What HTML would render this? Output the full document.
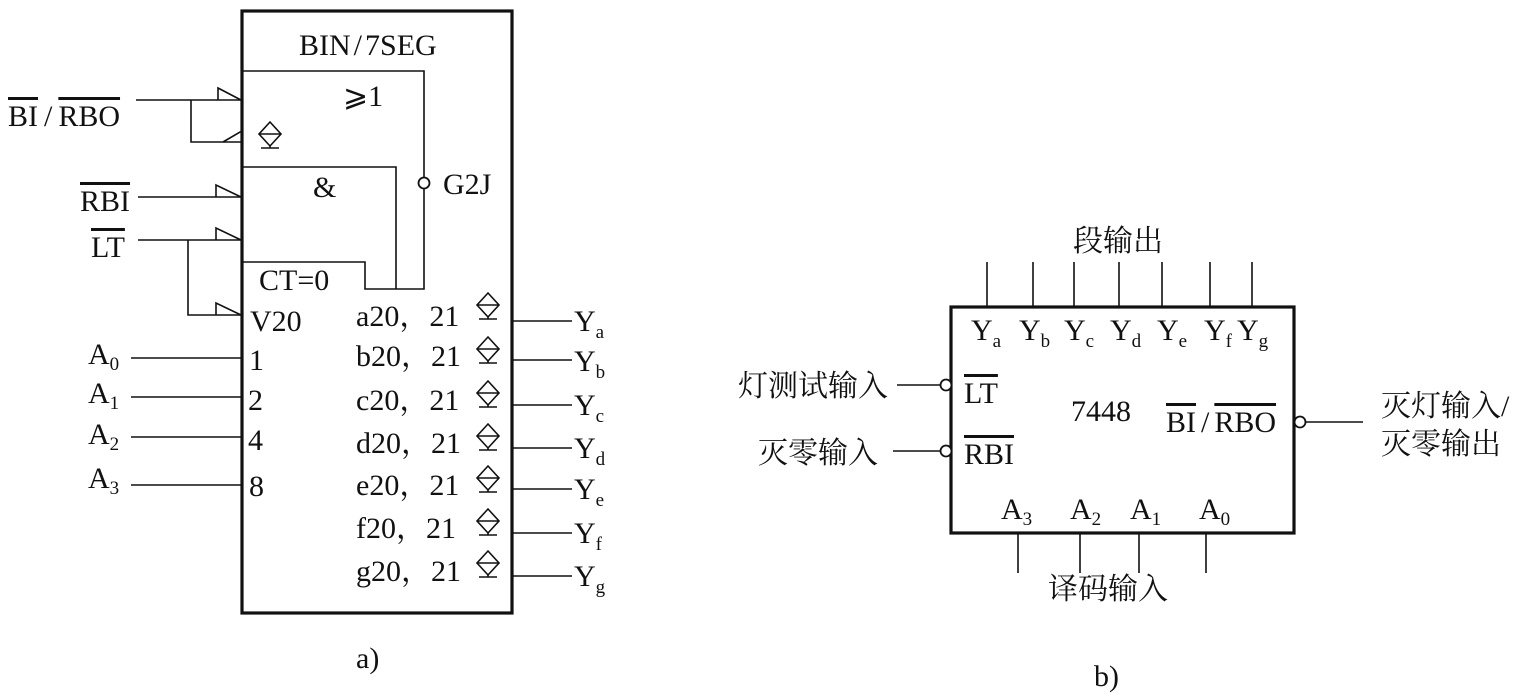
<!DOCTYPE html>
<html><head><meta charset="utf-8">
<style>
html,body{margin:0;padding:0;background:#fff;}
svg{display:block;}
text{font-family:"Liberation Serif","Noto Serif CJK SC","Noto Sans CJK SC",serif;fill:#111;}
.ov{text-decoration:overline;}
</style></head><body>
<svg width="1531" height="699" viewBox="0 0 1531 699" xmlns="http://www.w3.org/2000/svg">
<defs>
<g id="dm" fill="none" stroke="#111" stroke-width="1.6">
<path d="M0,-12 L11,0 L0,12 L-11,0 Z"/><line x1="-11" y1="0" x2="11" y2="0"/><line x1="-9" y1="14" x2="9" y2="14"/><line x1="0" y1="12" x2="0" y2="14"/>
</g>
</defs>
<g stroke="#111" fill="none">
<rect x="242" y="11" width="270" height="602" stroke-width="3.2"/>
<g stroke-width="1.6">
<polyline points="242,71 424,71 424,289 365,289 365,262 242,262"/>
<polyline points="242,167 396,167 396,289"/>
<line x1="136" y1="100" x2="242" y2="100"/>
<polyline points="191,100 191,142 242,142"/>
<polyline points="218,100 218,88 241,100"/>
<polyline points="223,142 240,132 242,132"/>
<line x1="138" y1="197" x2="242" y2="197"/>
<polyline points="216,197 216,185 241,197"/>
<line x1="138" y1="240" x2="242" y2="240"/>
<polyline points="188,240 188,315 242,315"/>
<polyline points="216,240 216,228 241,240"/>
<polyline points="216,315 216,303 241,315"/>
<line x1="131" y1="358" x2="242" y2="358"/>
<line x1="131" y1="397" x2="242" y2="397"/>
<line x1="131" y1="437" x2="242" y2="437"/>
<line x1="131" y1="485" x2="242" y2="485"/>
<line x1="512" y1="321" x2="572" y2="321"/>
<line x1="512" y1="360" x2="572" y2="360"/>
<line x1="512" y1="405" x2="572" y2="405"/>
<line x1="512" y1="448" x2="572" y2="448"/>
<line x1="512" y1="489" x2="572" y2="489"/>
<line x1="512" y1="533" x2="572" y2="533"/>
<line x1="512" y1="576" x2="572" y2="576"/>
</g>
<circle cx="424" cy="183" r="5.5" fill="#fff" stroke-width="1.8"/>
<rect x="951" y="307" width="343" height="226" stroke-width="3.2"/>
<g stroke-width="1.6">
<line x1="987" y1="262" x2="987" y2="307"/>
<line x1="1033" y1="262" x2="1033" y2="307"/>
<line x1="1074" y1="262" x2="1074" y2="307"/>
<line x1="1119" y1="262" x2="1119" y2="307"/>
<line x1="1162" y1="262" x2="1162" y2="307"/>
<line x1="1210" y1="262" x2="1210" y2="307"/>
<line x1="1252" y1="262" x2="1252" y2="307"/>
<line x1="1018" y1="533" x2="1018" y2="573"/>
<line x1="1080" y1="533" x2="1080" y2="573"/>
<line x1="1139" y1="533" x2="1139" y2="573"/>
<line x1="1206" y1="533" x2="1206" y2="573"/>
<line x1="897" y1="385" x2="941" y2="385"/>
<line x1="893" y1="451" x2="941" y2="451"/>
<line x1="1305" y1="422" x2="1363" y2="422"/>
</g>
<circle cx="946" cy="385" r="5.5" fill="#fff" stroke-width="1.8"/>
<circle cx="946" cy="451" r="5.5" fill="#fff" stroke-width="1.8"/>
<circle cx="1300" cy="422" r="5.5" fill="#fff" stroke-width="1.8"/>
</g>
<use href="#dm" x="270" y="134"/>
<use href="#dm" x="488" y="305"/>
<use href="#dm" x="488" y="349"/>
<use href="#dm" x="488" y="393"/>
<use href="#dm" x="488" y="436"/>
<use href="#dm" x="488" y="478"/>
<use href="#dm" x="488" y="521"/>
<use href="#dm" x="488" y="563"/>
<g font-size="30">
<text x="299" y="55">BIN<tspan dx="3">/</tspan><tspan dx="3">7SEG</tspan></text>
<text x="343" y="106">⩾1</text>
<text x="313" y="197">&amp;</text>
<text x="443" y="194">G2J</text>
<text x="259" y="290">CT=0</text>
<text x="250" y="331">V20</text>
<text x="249" y="370">1</text>
<text x="248" y="410">2</text>
<text x="248" y="450">4</text>
<text x="249" y="496">8</text>
<text x="8" y="126"><tspan class="ov">BI</tspan><tspan dx="6">/</tspan><tspan dx="6" class="ov">RBO</tspan></text>
<text x="80" y="211" class="ov">RBI</text>
<text x="91" y="257" class="ov">LT</text>
<text x="88" y="364">A<tspan font-size="19" dy="6">0</tspan></text>
<text x="88" y="403">A<tspan font-size="19" dy="6">1</tspan></text>
<text x="88" y="444">A<tspan font-size="19" dy="6">2</tspan></text>
<text x="88" y="488">A<tspan font-size="19" dy="6">3</tspan></text>
<text x="356" y="326">a20，21</text>
<text x="356" y="366">b20，21</text>
<text x="356" y="410">c20，21</text>
<text x="356" y="453">d20，21</text>
<text x="356" y="495">e20，21</text>
<text x="356" y="538">f20，21</text>
<text x="356" y="581">g20，21</text>
<text x="574" y="331">Y<tspan font-size="19" dy="7">a</tspan></text>
<text x="574" y="371">Y<tspan font-size="19" dy="7">b</tspan></text>
<text x="574" y="415">Y<tspan font-size="19" dy="7">c</tspan></text>
<text x="574" y="458">Y<tspan font-size="19" dy="7">d</tspan></text>
<text x="574" y="499">Y<tspan font-size="19" dy="7">e</tspan></text>
<text x="574" y="543">Y<tspan font-size="19" dy="7">f</tspan></text>
<text x="574" y="586">Y<tspan font-size="19" dy="7">g</tspan></text>
<text x="356" y="668">a)</text>
<text x="971" y="340">Y<tspan font-size="19" dy="7">a</tspan></text>
<text x="1019" y="340">Y<tspan font-size="19" dy="7">b</tspan></text>
<text x="1064" y="340">Y<tspan font-size="19" dy="7">c</tspan></text>
<text x="1110" y="340">Y<tspan font-size="19" dy="7">d</tspan></text>
<text x="1157" y="340">Y<tspan font-size="19" dy="7">e</tspan></text>
<text x="1204" y="340">Y<tspan font-size="19" dy="7">f</tspan></text>
<text x="1237" y="340">Y<tspan font-size="19" dy="7">g</tspan></text>
<text x="964" y="403" class="ov">LT</text>
<text x="964" y="464" class="ov">RBI</text>
<text x="1071" y="421">7448</text>
<text x="1166" y="432"><tspan class="ov">BI</tspan><tspan dx="5">/</tspan><tspan dx="5" class="ov">RBO</tspan></text>
<text x="1001" y="519">A<tspan font-size="19" dy="6">3</tspan></text>
<text x="1070" y="519">A<tspan font-size="19" dy="6">2</tspan></text>
<text x="1130" y="519">A<tspan font-size="19" dy="6">1</tspan></text>
<text x="1199" y="519">A<tspan font-size="19" dy="6">0</tspan></text>
<text x="1094" y="686">b)</text>
</g>
<g font-size="30">
<text x="1073" y="251">段输出</text>
<text x="1048" y="599">译码输入</text>
<text x="738" y="396">灯测试输入</text>
<text x="758" y="463">灭零输入</text>
<text x="1381" y="416">灭灯输入/</text>
<text x="1381" y="454">灭零输出</text>
</g>
</svg>
</body></html>
